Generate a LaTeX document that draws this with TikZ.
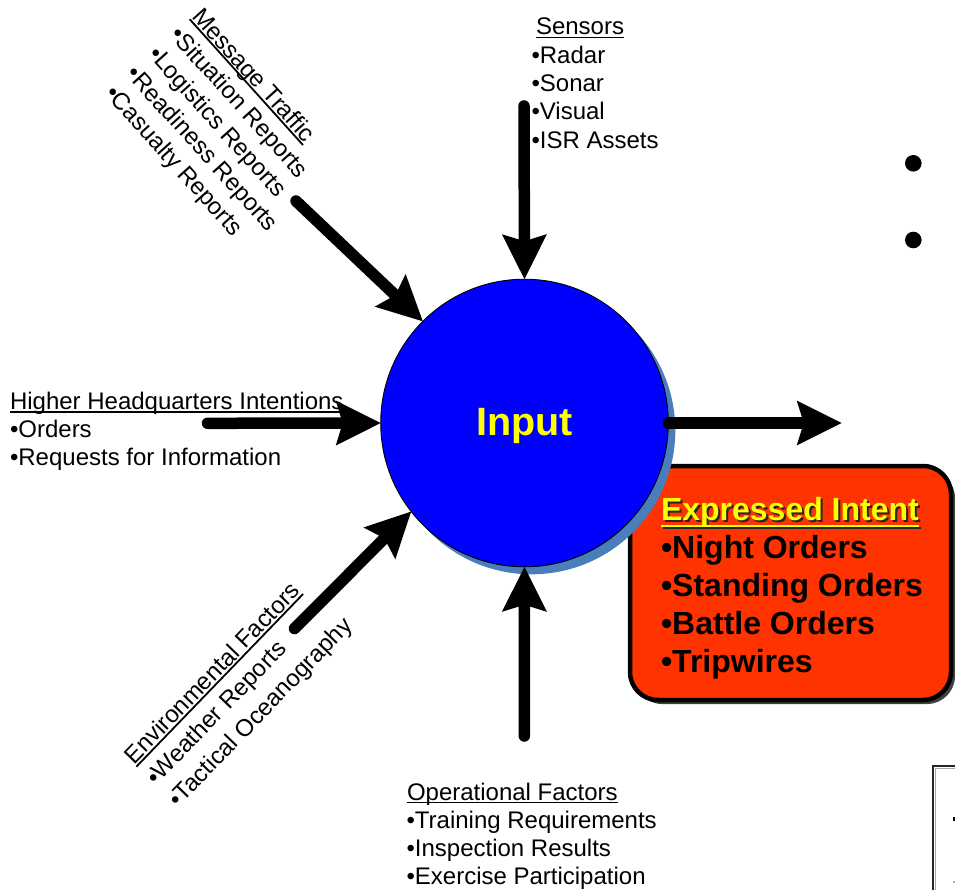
\documentclass[tikz,border=0pt]{standalone}
\usepackage{fontspec}
\setmainfont{Liberation Sans}
\usetikzlibrary{arrows.meta}

\definecolor{inblue}{RGB}{0,0,255}
\definecolor{inshadow}{RGB}{74,126,187}
\definecolor{intentred}{RGB}{255,51,0}
\definecolor{hiyellow}{RGB}{255,255,0}

% underlined heading: #1 = rule depth below baseline, #2 = rule thickness
\newsavebox\hdrbox
\newcommand\hdrline[3]{\sbox\hdrbox{#3}\rlap{\rule[-#1]{\wd\hdrbox}{#2}}\usebox\hdrbox}

\begin{document}
\begin{tikzpicture}[x=1pt,y=-1pt,
  lbl/.style={font=\fontsize{24}{28}\selectfont, inner sep=0pt, outer sep=0pt, anchor=base west},
  intenttxt/.style={font=\bfseries\fontsize{32}{37}\selectfont, inner sep=0pt, outer sep=0pt, anchor=base west},
  flow/.style={line width=11.5pt, line cap=round,
    -{Stealth[length=45pt,width=45pt,inset=7pt,line width=0pt]}},
]
\useasboundingbox (0,0) rectangle (955,890);

% ---- expressed intent panel ----
\fill[black!75, rounded corners=28pt] (634,470) rectangle (955,704);
\node[draw=black, line width=4.5pt, fill=intentred, rounded corners=28pt,
      minimum width=321pt, minimum height=234pt, anchor=north west,
      inner sep=0pt, outer sep=0pt] (intentbox) at (630,466) {};
\node[intenttxt, text=black!85] (eiShade) at (663,522) {\hdrline{7pt}{2.4pt}{Expressed Intent}};
\node[intenttxt, text=hiyellow] (eiHead) at (661,520) {\hdrline{7pt}{2.4pt}{Expressed Intent}};
\node[intenttxt] (eiNight) at (661,558) {•Night Orders};
\node[intenttxt] (eiStand) at (661,596) {•Standing Orders};
\node[intenttxt] (eiBattle) at (661,634) {•Battle Orders};
\node[intenttxt] (eiTrip) at (661,672) {•Tripwires};

% ---- central input circle ----
\fill[inshadow] (531.5,430.5) circle[radius=143.8pt];
\node[circle, draw=black, line width=0.9pt, fill=inblue, minimum size=287.6pt,
      inner sep=0pt, outer sep=0pt, text=hiyellow, text depth=3pt,
      font=\bfseries\fontsize{39.5}{44}\selectfont] (input) at (524.5,423) {Input};

% ---- bullets and frame at the right edge ----
\fill (913.3,163.3) circle[radius=8.3pt];
\fill (913.3,240) circle[radius=8.3pt];
\draw[line width=1.6pt, black!85] (933,892) |- (957,766);
\draw[line width=1.2pt, black!35] (935.6,892) |- (957,768.6);
\fill (952.5,816.5) rectangle (956,821);
\fill[black!30] (953,880.5) rectangle (956,883);

% ---- sensors ----
\node[lbl] (senHead) at (536,35) {\hdrline{3.4pt}{1.8pt}{Sensors}};
\node[lbl] (senRadar) at (531.5,63.3) {•Radar};
\node[lbl] (senSonar) at (531.5,91.6) {•Sonar};
\node[lbl] (senVisual) at (531.5,119.9) {•Visual};
\node[lbl] (senIsr) at (531.5,148.2) {•ISR Assets};

% ---- higher headquarters ----
\node[lbl] (hqHead) at (10,409.3) {\hdrline{3.4pt}{1.8pt}{Higher Headquarters Intentions}};
\node[lbl] (hqOrders) at (10,437.6) {•Orders};
\node[lbl] (hqRfi) at (10,465.9) {•Requests for Information};

% ---- operational factors ----
\node[lbl] (opHead) at (407,800) {\hdrline{3.4pt}{1.8pt}{Operational Factors}};
\node[lbl] (opTrain) at (406.5,828.3) {•Training Requirements};
\node[lbl] (opInsp) at (406.5,856.6) {•Inspection Results};
\node[lbl] (opExer) at (406.5,884.9) {•Exercise Participation};

% ---- message traffic (slanted down to the right) ----
\node[lbl, rotate=-48] (msgHead) at (191.5,17.5) {\hdrline{3.4pt}{1.8pt}{Message Traffic}};
\node[lbl, rotate=-48] (msgSit) at (169.1,36) {•Situation Reports};
\node[lbl, rotate=-48] (msgLog) at (147.4,55.5) {•Logistics Reports};
\node[lbl, rotate=-48] (msgRdy) at (125.7,75) {•Readiness Reports};
\node[lbl, rotate=-48] (msgCas) at (104,94.5) {•Casualty Reports};

% ---- environmental factors (slanted up to the right) ----
\node[lbl, rotate=46] (envHead) at (134.5,765) {\hdrline{3.4pt}{1.8pt}{Environmental Factors}};
\node[lbl, rotate=46] (envWx) at (156,786.5) {•Weather Reports};
\node[lbl, rotate=46] (envOcean) at (178,808.5) {•Tactical Oceanography};

% ---- arrow tails and the outgoing tip ----
\coordinate (senT) at (524,106);
\coordinate (msgT) at (296,201);
\coordinate (hqT) at (207.5,423.3);
\coordinate (envT) at (294.5,628.5);
\coordinate (opT) at (524.3,736);
\coordinate (outT) at (841.7,423);

% ---- flows into and out of the input circle ----
\draw[flow] (senT) -- (input.north);
\draw[flow] (msgT) -- (input.135.5);
\draw[flow] (hqT) -- (input.west);
\draw[flow] (envT) -- (input.218.3);
\draw[flow] (opT) -- (input.south);
\draw[flow] (input.east) -- (outT);
\end{tikzpicture}
\end{document}
